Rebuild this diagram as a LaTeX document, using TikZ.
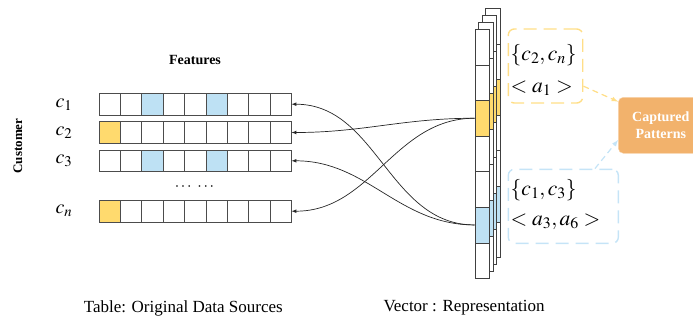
\documentclass[tikz,border=0pt]{standalone}
\usepackage{mathptmx}
\usepackage{fontspec}
\setmainfont{Liberation Serif}
\usetikzlibrary{positioning, arrows}

\definecolor{cellblue}{RGB}{190,225,244}
\definecolor{cellyellow}{RGB}{255,218,110}
\definecolor{dashyellow}{RGB}{255,222,135}
\definecolor{dashblue}{RGB}{197,228,247}
\definecolor{patternorange}{RGB}{242,178,108}

\begin{document}
\begin{tikzpicture}[x=1pt,y=-1pt,>=latex,
    cell/.style={draw=black!70,fill=white,minimum width=21.4pt,minimum height=21.7pt,inner sep=0pt},
    vcell/.style={draw=black!75,fill=white,minimum width=14.6pt,minimum height=35.6pt,inner sep=0pt},
    no/.style={}, bl/.style={fill=cellblue}, yl/.style={fill=cellyellow},
    lab/.style={font=\fontsize{20}{24}\selectfont},
    grouptext/.style={anchor=west,inner xsep=2pt,font=\fontsize{21.5}{25}\selectfont},
    group/.style={rounded corners=6pt,line width=1.4pt,dash pattern=on 13pt off 7pt,minimum height=74pt},
    patbox/.style={fill=patternorange,draw=patternorange!55!white,rounded corners=5pt,minimum width=85pt,
      minimum height=56pt,text=white,align=center,font=\bfseries\fontsize{14}{17}\selectfont}]
  \useasboundingbox (0,0) rectangle (693,324);

  % table of customers
  \node[font=\bfseries\fontsize{14}{17}\selectfont] (feat) at (195,60) {Features};
  \node[font=\bfseries\fontsize{13}{16}\selectfont,rotate=90] (cust) at (18,146) {Customer};
  \foreach \r/\y/\pat in {1/104.2/{no,no,bl,no,no,bl,no,no,no},
                          2/132.5/{yl,no,no,no,no,no,no,no,no},
                          3/160.8/{no,no,bl,no,no,bl,no,no,no},
                          n/211.2/{yl,no,no,no,no,no,no,no,no}} {
    \node[lab] (l\r) at (64,\y) {$c_\r$};
    \foreach \c [count=\i] in \pat
      \node[cell,\c] (r\r-\i) at ({98.7+21.4*(\i-0.5)},\y) {};
  }
  \node[font=\fontsize{16}{19}\selectfont] (dots) at (194.5,187) {$\cdots\ \cdots$};

  % stacked vectors
  \foreach \k in {3,2,1}
    \foreach \c [count=\i] in {no,no,yl,no,no,bl,no}
      \node[vcell,\c] at ({482+3.5*\k},{29.3+35.57*(\i-0.5)-7*\k}) {};
  \foreach \c [count=\i] in {no,no,yl,no,no,bl,no}
    \node[vcell,\c] (v-\i) at (482,{29.3+35.57*(\i-0.5)}) {};

  \path[->,black!85,line width=0.7pt]
    (v-3) edge[out=180,in=0] (r2-9)
          edge[out=180,in=0] (rn-9)
    (v-6) edge[out=180,in=0] (r1-9)
          edge[out=180,in=0] (r3-9);

  % patterns
  \node[group,draw=dashyellow,minimum width=74.4pt] (yelbox) at (545.5,66) {};
  \node[group,draw=dashblue,minimum width=110pt] (blubox) at (563.3,206.3) {};
  \node[grouptext] (yc) at (508.5,55) {$\{c_2,c_n\}$};
  \node[grouptext] (ya) at (508.5,88) {$<a_1>$};
  \node[grouptext] (bc) at (508.5,190) {$\{c_1,c_3\}$};
  \node[grouptext] (ba) at (508.5,221.7) {$<a_3,a_6>$};

  \node[patbox] (cap) at (660.8,125.3) {Captured\\Patterns};
  \draw[->,dashyellow,line width=1.2pt,dash pattern=on 6pt off 4pt] (yelbox.-28) -- (cap.151);
  \draw[->,dashblue,line width=1.2pt,dash pattern=on 6pt off 4pt] (blubox.50) -- (cap.199);

  \node[font=\fontsize{17}{20}\selectfont] (tab) at (183.3,308) {Table: Original Data Sources};
  \node[font=\fontsize{17}{20}\selectfont] (vec) at (464,308) {Vector : Representation};
\end{tikzpicture}
\end{document}
